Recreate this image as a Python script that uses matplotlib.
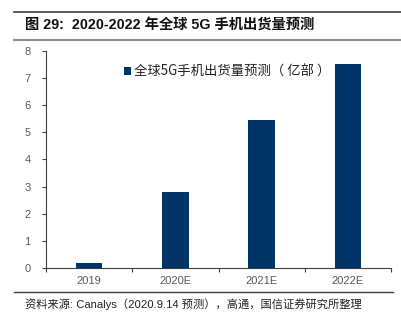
import matplotlib
matplotlib.use("Agg")
import matplotlib.pyplot as plt
from matplotlib.lines import Line2D
from matplotlib.patches import Patch

plt.rcParams['font.family'] = ['Liberation Sans', 'Noto Sans CJK SC', 'DejaVu Sans']

categories = ["2019", "2020E", "2021E", "2022E"]
values = [0.2, 2.8, 5.45, 7.5]
yticks = [0, 1, 2, 3, 4, 5, 6, 7, 8]
title = "图 29:  2020-2022 年全球 5G 手机出货量预测"
legend_label = "全球5G手机出货量预测（ 亿部 ）"
source = "资料来源: Canalys（2020.9.14 预测），高通，国信证券研究所整理"

W, H = 402, 323
fig = plt.figure(figsize=(W / 100, H / 100), dpi=100)
fig.patch.set_facecolor('white')

ax = fig.add_axes([46 / W, 1 - 268 / H, (391 - 46) / W, (268 - 50.7) / H])
bar_color = '#003366'
x = list(range(len(categories)))
ax.bar(x, values, width=0.31, color=bar_color, zorder=3)
ax.set_xlim(-0.5, len(categories) - 0.5)
ax.set_ylim(0, 8)
ax.set_yticks(yticks)
ax.set_yticklabels([str(t) for t in yticks])
ax.set_xticks(x)
ax.set_xticklabels(categories)
ax.set_xticks([i - 0.5 for i in range(len(categories) + 1)], minor=True)
ax.tick_params(axis='x', which='major', length=0, pad=6, labelsize=8, labelcolor='#595959')
ax.tick_params(axis='x', which='minor', length=3, direction='out', color='#404040', width=0.8)
ax.tick_params(axis='y', length=3, direction='out', color='#404040', width=0.8,
               labelsize=8, labelcolor='#595959', pad=8)
for s in ['top', 'right']:
    ax.spines[s].set_visible(False)
ax.spines['left'].set_color('#404040')
ax.spines['bottom'].set_color('#404040')
ax.spines['left'].set_linewidth(0.8)
ax.spines['bottom'].set_linewidth(0.8)

handle = Patch(facecolor=bar_color)
leg = ax.legend([handle], [legend_label], loc='upper left', bbox_to_anchor=(0.19, 0.99),
                frameon=False, handlelength=0.55, handleheight=0.55, handletextpad=0.2,
                prop={'family': ['Noto Sans CJK SC', 'DejaVu Sans'], 'size': 9.6})
for t in leg.get_texts():
    t.set_color('#222222')

# header / footer lines
fig.add_artist(Line2D([14 / W, 1], [1 - 11.5 / H, 1 - 11.5 / H], color='#404040', lw=1.2))
fig.add_artist(Line2D([14 / W, 1], [1 - 40 / H, 1 - 40 / H], color='#8c8c8c', lw=1.5))
fig.add_artist(Line2D([14 / W, 393 / W], [1 - 292 / H, 1 - 292 / H], color='#404040', lw=1.0))

fig.text(25 / W, 1 - 25 / H, title, ha='left', va='center', fontsize=10.3, fontweight='bold',
         color='#111111', family=['Liberation Sans', 'Noto Sans CJK SC', 'DejaVu Sans'])
fig.text(25 / W, 1 - 304 / H, source, ha='left', va='center', fontsize=8.1,
         color='#222222', family=['Liberation Sans', 'Noto Sans CJK SC', 'DejaVu Sans'])

fig.savefig('out.png', dpi=100, facecolor='white')
